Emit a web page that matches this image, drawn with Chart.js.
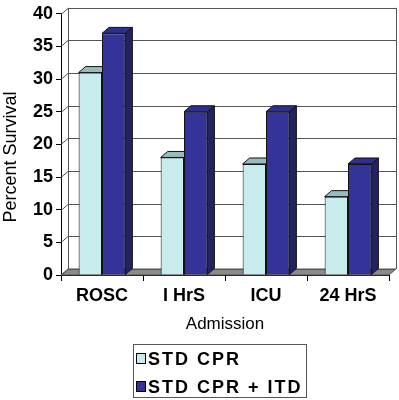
<!DOCTYPE html>
<html>
<head>
<meta charset="utf-8">
<script src="https://cdn.jsdelivr.net/npm/chart.js@4"></script>
<style>
  html, body { margin: 0; padding: 0; background: #fff; }
  #wrap { width: 399px; height: 400px; }
</style>
</head>
<body>
<div id="wrap"><canvas id="chart"></canvas></div>
<script>
// ─── Data ────────────────────────────────────────────────────────────
const categories = ['ROSC', 'I HrS', 'ICU', '24 HrS'];
const stdCpr = [31, 18, 17, 12];
const stdCprItd = [37, 25, 25, 17];
const seriesLabels = ['STD CPR', 'STD CPR + ITD'];
const yTitle = 'Percent Survival';
const xTitle = 'Admission';
const yMin = 0, yMax = 40, yStep = 5;

const FONT = 'Arial, "Liberation Sans", sans-serif';
const LIGHT = '#c8ecee', LIGHT_TOP = '#97bcbd', LIGHT_SIDE = '#8fb0b2';
const DARK = '#333399', DARK_TOP = '#2e2e8c', DARK_SIDE = '#23235f';
const DEPTH_X = 7, DEPTH_Y = 6;

function poly(ctx, pts, fill, stroke) {
    ctx.beginPath();
    ctx.moveTo(pts[0][0], pts[0][1]);
    for (let i = 1; i < pts.length; i++) ctx.lineTo(pts[i][0], pts[i][1]);
    ctx.closePath();
    if (fill) { ctx.fillStyle = fill; ctx.fill(); }
    if (stroke) { ctx.strokeStyle = stroke; ctx.stroke(); }
}

// walls, floor and the top/side faces of the bars (drawn behind the fronts)
const threeD = {
    id: 'threeD',
    beforeDatasetsDraw(chart) {
        const { ctx, chartArea: a, scales: { y } } = chart;
        const dx = DEPTH_X, dy = DEPTH_Y;
        ctx.save();
        ctx.lineWidth = 1;

        // floor
        poly(ctx, [[a.left, a.bottom], [a.right, a.bottom], [a.right + dx, a.bottom - dy], [a.left + dx, a.bottom - dy]], '#8a8a8a', '#555');

        // back wall gridlines + side wall diagonals
        ctx.strokeStyle = '#555';
        y.ticks.forEach(t => {
            const py = Math.round(y.getPixelForValue(t.value)) + 0.5;
            ctx.beginPath();
            ctx.moveTo(a.left + dx, py - dy);
            ctx.lineTo(a.right + dx, py - dy);
            ctx.moveTo(a.left, py);
            ctx.lineTo(a.left + dx, py - dy);
            ctx.stroke();
        });
        ctx.beginPath();
        ctx.moveTo(a.left + dx + 0.5, a.top - dy);
        ctx.lineTo(a.left + dx + 0.5, a.bottom - dy);
        ctx.moveTo(a.right + dx + 0.5, a.top - dy);
        ctx.lineTo(a.right + dx + 0.5, a.bottom - dy);
        ctx.stroke();

        // bar tops and sides
        chart.data.datasets.forEach((ds, i) => {
            const meta = chart.getDatasetMeta(i);
            const top = i === 0 ? LIGHT_TOP : DARK_TOP;
            const side = i === 0 ? LIGHT_SIDE : DARK_SIDE;
            meta.data.forEach(bar => {
                const p = bar.getProps(['x', 'y', 'base', 'width'], true);
                const l = p.x - p.width / 2, r = p.x + p.width / 2;
                poly(ctx, [[r, p.y], [r + dx, p.y - dy], [r + dx, p.base - dy], [r, p.base]], side, '#111');
                poly(ctx, [[l, p.y], [r, p.y], [r + dx, p.y - dy], [l + dx, p.y - dy]], top, '#111');
            });
        });
        ctx.restore();
    },
    afterDraw(chart) {
        const { ctx } = chart;
        ctx.save();
        // y axis title, placed a bit below the plot centre like the original
        ctx.fillStyle = '#000';
        ctx.font = '18px ' + FONT;
        ctx.textAlign = 'center';
        ctx.textBaseline = 'middle';
        ctx.translate(11, 157);
        ctx.rotate(-Math.PI / 2);
        ctx.fillText(yTitle, 0, 0);
        ctx.restore();

        ctx.save();
        // legend box
        ctx.lineWidth = 1;
        ctx.strokeStyle = '#555';
        ctx.strokeRect(133.5, 344.5, 173, 53);
        const colors = [LIGHT, DARK];
        ctx.font = 'bold 18px ' + FONT;
        ctx.letterSpacing = '2px';
        ctx.textBaseline = 'middle';
        seriesLabels.forEach((lab, i) => {
            const cy = 359 + i * 28;
            ctx.fillStyle = colors[i];
            ctx.fillRect(136.5, cy - 5.5, 9, 10);
            ctx.strokeStyle = '#000';
            ctx.strokeRect(136.5, cy - 5.5, 9, 10);
            ctx.fillStyle = '#000';
            ctx.fillText(lab, 148, cy + 1);
        });
        ctx.restore();
    }
};

new Chart(document.getElementById('chart'), {
    type: 'bar',
    data: {
        labels: categories,
        datasets: [
            {
                label: seriesLabels[0],
                data: stdCpr,
                backgroundColor: LIGHT,
                borderColor: '#111',
                borderWidth: 1
            },
            {
                label: seriesLabels[1],
                data: stdCprItd,
                backgroundColor: DARK,
                borderColor: '#111',
                borderWidth: 1
            }
        ]
    },
    options: {
        responsive: true,
        maintainAspectRatio: false,
        animation: false,
        layout: { padding: { left: 0, top: 7, right: 10, bottom: 65 } },
        datasets: { bar: { categoryPercentage: 0.57, barPercentage: 1.0 } },
        plugins: {
            legend: { display: false },
            tooltip: { enabled: false }
        },
        scales: {
            x: {
                afterFit: s => { s.height = 60; },
                grid: { drawOnChartArea: false, tickLength: 6, color: '#000' },
                border: { color: '#000' },
                ticks: { color: '#000', padding: 4, font: { family: FONT, size: 18, weight: 'bold' } },
                title: {
                    display: true, text: xTitle, color: '#000',
                    padding: { top: 0, bottom: 0 },
                    font: { family: FONT, size: 17 }
                }
            },
            y: {
                min: yMin,
                max: yMax,
                afterFit: s => { s.width = 61; },
                grid: { drawOnChartArea: false, tickLength: 5, color: '#000' },
                border: { color: '#000' },
                ticks: { stepSize: yStep, color: '#000', padding: 3, font: { family: FONT, size: 18, weight: 'bold' } },
                title: { display: false }
            }
        }
    },
    plugins: [threeD]
});
</script>
</body>
</html>
